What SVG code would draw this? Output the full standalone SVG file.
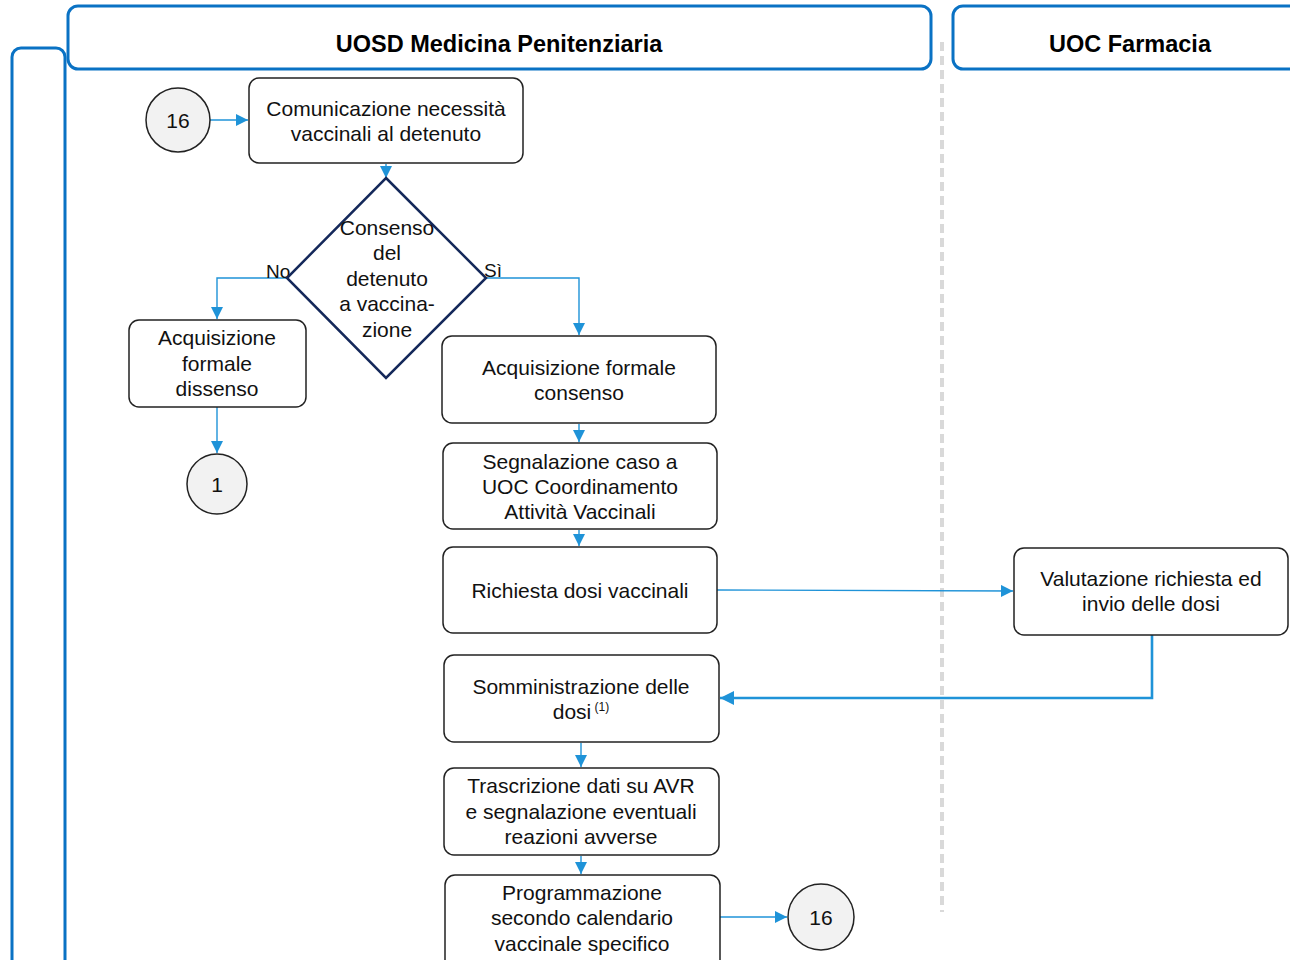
<svg xmlns="http://www.w3.org/2000/svg" width="1290" height="960" viewBox="0 0 1290 960">
<style>
.lane{fill:#fff;stroke:#0A72C4;stroke-width:3}
.hdr{font-family:"Liberation Sans",Arial,sans-serif;font-size:23.5px;font-weight:bold;fill:#000;text-anchor:middle}
.box{fill:#fff;stroke:#222;stroke-width:1.5}
.circ{fill:#f2f2f2;stroke:#222;stroke-width:1.5}
.dia{fill:#fff;stroke:#14285A;stroke-width:2.5}
.t{font-family:"Liberation Sans",Arial,sans-serif;font-size:21px;fill:#111;text-anchor:middle}
.lbl{font-family:"Liberation Sans",Arial,sans-serif;font-size:19px;fill:#111}
.c{fill:none;stroke:#1F93D8;stroke-width:1.4}
.cb{fill:none;stroke:#1F93D8;stroke-width:2.6}
</style>
<defs>
<marker id="ah" viewBox="0 0 10 10" refX="10" refY="5" markerWidth="12" markerHeight="12" markerUnits="userSpaceOnUse" orient="auto">
<path d="M0,0 L10,5 L0,10 z" fill="#1F93D8"/>
</marker>
<marker id="ahb" viewBox="0 0 10 10" refX="10" refY="5" markerWidth="14" markerHeight="14" markerUnits="userSpaceOnUse" orient="auto">
<path d="M0,0 L10,5 L0,10 z" fill="#1F93D8"/>
</marker>
</defs>
<rect width="1290" height="960" fill="#fff"/>
<g id="pool">
<rect class="lane" x="12" y="48" width="53" height="925" rx="9"/>
<rect class="lane" x="68" y="6" width="863" height="63" rx="10"/>
<text class="hdr" x="499" y="52">UOSD Medicina Penitenziaria</text>
<rect class="lane" x="953" y="6" width="360" height="63" rx="10"/>
<text class="hdr" x="1130" y="52">UOC Farmacia</text>
<line x1="942" y1="42" x2="942" y2="912" stroke="#D9D9D9" stroke-width="4" stroke-dasharray="9,5"/>
</g>
<g id="connectors">
<line class="c" x1="210" y1="120" x2="248" y2="120" marker-end="url(#ah)"/>
<line class="c" x1="386" y1="164" x2="386" y2="178" marker-end="url(#ah)"/>
<polyline class="c" points="287,278 217,278 217,319" marker-end="url(#ah)"/>
<polyline class="c" points="486,278 579,278 579,335" marker-end="url(#ah)"/>
<line class="c" x1="217" y1="407" x2="217" y2="453" marker-end="url(#ah)"/>
<line class="c" x1="579" y1="424" x2="579" y2="442" marker-end="url(#ah)"/>
<line class="c" x1="579" y1="530" x2="579" y2="546" marker-end="url(#ah)"/>
<line class="c" x1="717" y1="590" x2="1013" y2="591" marker-end="url(#ah)"/>
<polyline class="cb" points="1152,635 1152,698 720,698" marker-end="url(#ahb)"/>
<line class="c" x1="581" y1="743" x2="581" y2="767" marker-end="url(#ah)"/>
<line class="c" x1="581" y1="856" x2="581" y2="874" marker-end="url(#ah)"/>
<line class="c" x1="720" y1="917" x2="787" y2="917" marker-end="url(#ah)"/>
<text class="lbl" x="266" y="278">No</text>
<text class="lbl" x="484" y="277">Sì</text>
</g>
<g id="n-start16">
<circle class="circ" cx="178" cy="120" r="32"/>
<text class="t" x="178" y="128">16</text>
</g>
<g id="n-comunicazione">
<rect class="box" x="249" y="78" width="274" height="85" rx="10"/>
<text class="t" x="386" y="116">Comunicazione necessità</text>
<text class="t" x="386" y="141">vaccinali al detenuto</text>
</g>
<g id="n-consenso">
<polygon class="dia" points="386,178 486,278 386,378 287,278"/>
<text class="t" x="387" y="235">Consenso</text>
<text class="t" x="387" y="260">del</text>
<text class="t" x="387" y="286">detenuto</text>
<text class="t" x="387" y="311">a vaccina-</text>
<text class="t" x="387" y="337">zione</text>
</g>
<g id="n-dissenso">
<rect class="box" x="129" y="320" width="177" height="87" rx="10"/>
<text class="t" x="217" y="345">Acquisizione</text>
<text class="t" x="217" y="371">formale</text>
<text class="t" x="217" y="396">dissenso</text>
</g>
<g id="n-end1">
<circle class="circ" cx="217" cy="484" r="30"/>
<text class="t" x="217" y="492">1</text>
</g>
<g id="n-acqconsenso">
<rect class="box" x="442" y="336" width="274" height="87" rx="10"/>
<text class="t" x="579" y="375">Acquisizione formale</text>
<text class="t" x="579" y="400">consenso</text>
</g>
<g id="n-segnalazione">
<rect class="box" x="443" y="443" width="274" height="86" rx="10"/>
<text class="t" x="580" y="469">Segnalazione caso a</text>
<text class="t" x="580" y="494">UOC Coordinamento</text>
<text class="t" x="580" y="519">Attività Vaccinali</text>
</g>
<g id="n-richiesta">
<rect class="box" x="443" y="547" width="274" height="86" rx="10"/>
<text class="t" x="580" y="598">Richiesta dosi vaccinali</text>
</g>
<g id="n-valutazione">
<rect class="box" x="1014" y="548" width="274" height="87" rx="10"/>
<text class="t" x="1151" y="586">Valutazione richiesta ed</text>
<text class="t" x="1151" y="611">invio delle dosi</text>
</g>
<g id="n-somministrazione">
<rect class="box" x="444" y="655" width="275" height="87" rx="10"/>
<text class="t" x="581" y="694">Somministrazione delle</text>
<text class="t" x="581" y="719">dosi<tspan font-size="12" dy="-8"> (1)</tspan></text>
</g>
<g id="n-trascrizione">
<rect class="box" x="444" y="768" width="275" height="87" rx="10"/>
<text class="t" x="581" y="793">Trascrizione dati su AVR</text>
<text class="t" x="581" y="819">e segnalazione eventuali</text>
<text class="t" x="581" y="844">reazioni avverse</text>
</g>
<g id="n-programmazione">
<rect class="box" x="445" y="875" width="275" height="95" rx="10"/>
<text class="t" x="582" y="900">Programmazione</text>
<text class="t" x="582" y="925">secondo calendario</text>
<text class="t" x="582" y="951">vaccinale specifico</text>
</g>
<g id="n-end16">
<circle class="circ" cx="821" cy="917" r="33"/>
<text class="t" x="821" y="925">16</text>
</g>
</svg>
